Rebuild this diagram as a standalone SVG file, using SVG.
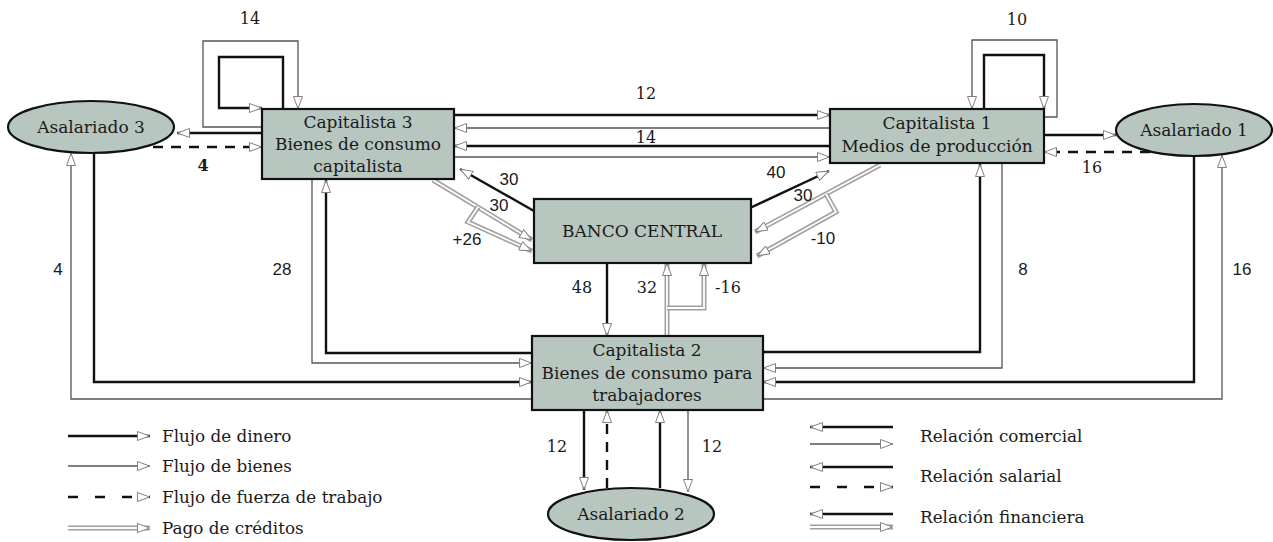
<svg xmlns="http://www.w3.org/2000/svg" width="1273" height="542" viewBox="0 0 1273 542">
<defs>
<marker id="ah" viewBox="0 0 13 10" refX="13" refY="5" markerWidth="13" markerHeight="10" markerUnits="userSpaceOnUse" orient="auto">
<path d="M0.5,0.5 L12.5,5 L0.5,9.5 Z" fill="#fff" stroke="#808080" stroke-width="1"/>
</marker>
<style>
.node{fill:#b8c6c0;stroke:#111;stroke-width:2.2}
.t{font-family:"DejaVu Serif","Liberation Serif",serif;font-size:17px;fill:#1a1a1a;text-anchor:middle}
.n{font-family:"DejaVu Serif","Liberation Serif",serif;font-size:16px;fill:#1a1a1a;text-anchor:middle}
.ns{font-family:"Liberation Sans",Arial,sans-serif;font-size:17px;fill:#1a1a1a;text-anchor:middle}
.lg{font-family:"DejaVu Serif","Liberation Serif",serif;font-size:16.8px;fill:#1a1a1a}
.money{fill:none;stroke:#111;stroke-width:2.4}
.goods{fill:none;stroke:#555;stroke-width:1.3}
.labor{fill:none;stroke:#111;stroke-width:2.4;stroke-dasharray:10,8}
.crO{fill:none;stroke:#a0a0a0;stroke-width:5}
.crI{fill:none;stroke:#fff;stroke-width:1.8}
.arr{marker-end:url(#ah)}
</style>
</defs>
<rect width="1273" height="542" fill="#fff"/>

<g id="connectors">
<!-- Cap3 self loops -->
<path class="goods arr" d="M262,127 H203 V41 H298 V109"/>
<path class="money arr" d="M283,109 V57 H219 V108 H262"/>
<!-- Cap3 - Asal3 -->
<path class="money arr" d="M262,133 H177"/>
<path class="labor arr" d="M153,147 H262"/>
<!-- Cap3 - Cap1 -->
<path class="money arr" d="M454,115 H830"/>
<path class="goods arr" d="M830,128 H454"/>
<path class="money arr" d="M830,146 H454"/>
<path class="goods arr" d="M454,157 H830"/>
<!-- Bank - Cap3 -->
<path class="money arr" d="M534,211 L460,169"/>
<path class="crO" d="M433,180 L532,240"/>
<path class="crI arr" d="M433,180 L532,240"/>
<path class="crO" d="M478,207 L468,222 L532,251"/>
<path class="crI arr" d="M478,207 L468,222 L532,251"/>
<!-- Bank - Cap1 -->
<path class="money arr" d="M750,208 L829,171"/>
<path class="crO" d="M880,165 L755,232"/>
<path class="crI arr" d="M880,165 L755,232"/>
<path class="crO" d="M826,194 L836,212 L757,256"/>
<path class="crI arr" d="M826,194 L836,212 L757,256"/>
<!-- Bank - Cap2 -->
<path class="money arr" d="M607,263 V336"/>
<path class="crO" d="M667,336 V263"/>
<path class="crI arr" d="M667,336 V263"/>
<path class="crO" d="M667,308 H704 V263"/>
<path class="crI arr" d="M667,308 H704 V263"/>
<!-- Cap2 - Cap3 -->
<path class="money arr" d="M532,353 H326 V180"/>
<path class="goods arr" d="M312,179 V363 H532"/>
<!-- Asal3 - Cap2 -->
<path class="money arr" d="M94,153 V382 H532"/>
<path class="goods arr" d="M532,399 H71 V153"/>
<!-- Cap2 - Cap1 -->
<path class="money arr" d="M763,352 H980 V164"/>
<path class="goods arr" d="M1002,163 V368 H763"/>
<!-- Asal1 - Cap2 -->
<path class="money arr" d="M1194,156 V382 H763"/>
<path class="goods arr" d="M763,399 H1222 V155"/>
<!-- Cap1 - Asal1 -->
<path class="money arr" d="M1044,135 H1116"/>
<path class="labor arr" d="M1150,152 H1044"/>
<!-- Cap1 self loops -->
<path class="goods arr" d="M1044,117 H1057 V40 H972 V109"/>
<path class="money arr" d="M984,109 V55 H1044 V109"/>
<!-- Cap2 - Asal2 -->
<path class="money arr" d="M584,410 V490"/>
<path class="labor arr" d="M607,488 V410"/>
<path class="money arr" d="M660,488 V410"/>
<path class="goods arr" d="M688,410 V492"/>
</g>

<g id="labels">
<text class="n" x="250" y="24">14</text>
<text class="n" x="1017" y="25">10</text>
<text class="n" x="646" y="99">12</text>
<text class="n" x="646" y="143">14</text>
<text class="n" x="203" y="171" font-weight="bold">4</text>
<text class="n" x="1092" y="173">16</text>
<text class="ns" x="509" y="185">30</text>
<text class="ns" x="499" y="211">30</text>
<text class="ns" x="467" y="245">+26</text>
<text class="ns" x="776" y="178">40</text>
<text class="ns" x="803" y="201">30</text>
<text class="ns" x="823" y="244">-10</text>
<text class="n" x="582" y="293">48</text>
<text class="n" x="647" y="293">32</text>
<text class="n" x="728" y="293">-16</text>
<text class="ns" x="58" y="275">4</text>
<text class="ns" x="282" y="275">28</text>
<text class="ns" x="1023" y="275">8</text>
<text class="ns" x="1242" y="275">16</text>
<text class="n" x="557" y="452">12</text>
<text class="n" x="712" y="452">12</text>
</g>

<g id="asalariado3">
<ellipse class="node" cx="91" cy="127" rx="83" ry="26"/>
<text class="t" x="91" y="133">Asalariado 3</text>
</g>
<g id="capitalista3">
<rect class="node" x="262" y="109" width="192" height="70"/>
<text class="t" x="358" y="128">Capitalista 3</text>
<text class="t" x="358" y="150">Bienes de consumo</text>
<text class="t" x="358" y="172">capitalista</text>
</g>
<g id="capitalista1">
<rect class="node" x="830" y="109" width="214" height="54"/>
<text class="t" x="937" y="129">Capitalista 1</text>
<text class="t" x="937" y="152">Medios de producción</text>
</g>
<g id="asalariado1">
<ellipse class="node" cx="1194" cy="130" rx="78" ry="26"/>
<text class="t" x="1194" y="136">Asalariado 1</text>
</g>
<g id="bancocentral">
<rect class="node" x="534" y="199" width="217" height="64"/>
<text class="t" x="642" y="237">BANCO CENTRAL</text>
</g>
<g id="capitalista2">
<rect class="node" x="532" y="336" width="231" height="74"/>
<text class="t" x="647" y="356">Capitalista 2</text>
<text class="t" x="647" y="379">Bienes de consumo para</text>
<text class="t" x="647" y="401">trabajadores</text>
</g>
<g id="asalariado2">
<ellipse class="node" cx="631" cy="514" rx="83" ry="26"/>
<text class="t" x="631" y="520">Asalariado 2</text>
</g>

<g id="legend">
<path class="money arr" d="M68,436 H150"/>
<text class="lg" x="162" y="442">Flujo de dinero</text>
<path class="goods arr" d="M68,466 H150"/>
<text class="lg" x="162" y="472">Flujo de bienes</text>
<path class="labor arr" d="M68,497 H150" style="stroke-dasharray:10,17"/>
<text class="lg" x="162" y="503">Flujo de fuerza de trabajo</text>
<path class="crO" d="M68,528 H150"/>
<path class="crI arr" d="M68,528 H150"/>
<text class="lg" x="162" y="534">Pago de créditos</text>

<path class="money arr" d="M893,427 H810"/>
<path class="goods arr" d="M810,444 H893"/>
<text class="lg" x="920" y="442">Relación comercial</text>
<path class="money arr" d="M893,467 H810"/>
<path class="labor arr" d="M810,487 H893" style="stroke-dasharray:10,17"/>
<text class="lg" x="920" y="482">Relación salarial</text>
<path class="money arr" d="M893,514 H810"/>
<path class="crO" d="M810,527 H893"/>
<path class="crI arr" d="M810,527 H893"/>
<text class="lg" x="920" y="523">Relación financiera</text>
</g>
</svg>
